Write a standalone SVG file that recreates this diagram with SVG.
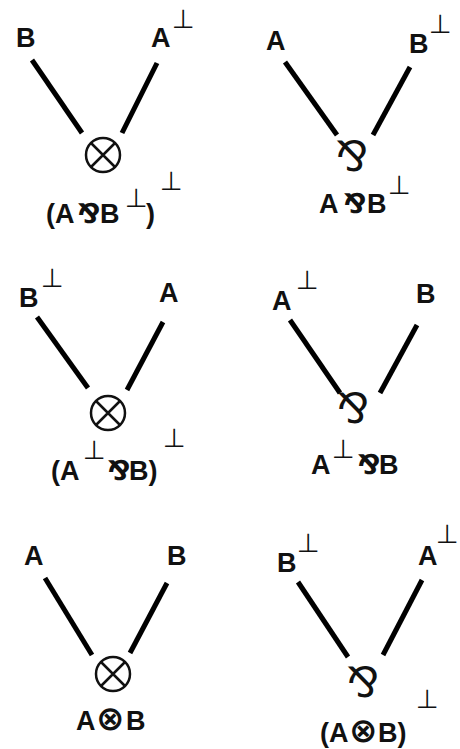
<svg xmlns="http://www.w3.org/2000/svg" width="460" height="749" viewBox="0 0 460 749">
<style>
.l{font-family:"Liberation Sans","DejaVu Sans",sans-serif;font-weight:bold;font-size:27px;fill:#111}
.s{font-family:"DejaVu Sans",sans-serif;font-weight:normal;font-size:26px;fill:#111}
.o{font-family:"DejaVu Sans",sans-serif;font-weight:bold}
.ot{font-family:"DejaVu Sans",sans-serif;font-weight:bold;font-size:34px}
.par{font-family:"DejaVu Sans",sans-serif;font-size:42px;fill:#111;text-anchor:middle}
.e{stroke:#000;stroke-width:5;fill:none}
.t{stroke:#111;stroke-width:2.5;fill:none}
</style>
<rect width="460" height="749" fill="#fff"/>
<g id="connectors">
<line class="e" x1="32" y1="60" x2="82" y2="133"/>
<line class="e" x1="157" y1="63" x2="122" y2="133"/>
<line class="e" x1="285" y1="62" x2="337" y2="135"/>
<line class="e" x1="410" y1="67" x2="373" y2="135"/>
<line class="e" x1="37" y1="317" x2="88" y2="388"/>
<line class="e" x1="163" y1="322" x2="127" y2="390"/>
<line class="e" x1="290" y1="320" x2="340" y2="393"/>
<line class="e" x1="417" y1="325" x2="380" y2="393"/>
<line class="e" x1="45" y1="578" x2="92" y2="655"/>
<line class="e" x1="167" y1="583" x2="130" y2="653"/>
<line class="e" x1="298" y1="582" x2="348" y2="657"/>
<line class="e" x1="422" y1="580" x2="383" y2="655"/>
</g>
<!-- Panel 1 -->
<g id="p1-b"><text class="l" x="16" y="47">B</text></g>
<g id="p1-aperp"><text class="l" x="151" y="47">A<tspan class="s" x="172" y="28">⊥</tspan></text></g>
<g id="p1-tensor">
<circle class="t" cx="103" cy="155" r="17"/>
<path class="t" d="M91 143 L115 167 M115 143 L91 167"/>
<text class="l" x="46" y="223">(A<tspan class="o" x="77">⅋</tspan><tspan x="100">B</tspan><tspan class="s" x="125" y="207">⊥</tspan><tspan x="146" y="223">)</tspan><tspan class="s" x="160" y="190">⊥</tspan></text>
</g>
<!-- Panel 2 -->
<g id="p2-a"><text class="l" x="266" y="50">A</text></g>
<g id="p2-bperp"><text class="l" x="409" y="53">B<tspan class="s" x="429" y="33">⊥</tspan></text></g>
<g id="p2-par">
<text class="par" x="352" y="171">⅋</text>
<text class="l" x="319" y="213">A<tspan class="o" x="343">⅋</tspan><tspan x="367">B</tspan><tspan class="s" x="388" y="194">⊥</tspan></text>
</g>
<!-- Panel 3 -->
<g id="p3-bperp"><text class="l" x="19" y="307">B<tspan class="s" x="41" y="287">⊥</tspan></text></g>
<g id="p3-a"><text class="l" x="159" y="302">A</text></g>
<g id="p3-tensor">
<circle class="t" cx="108" cy="413" r="17"/>
<path class="t" d="M96 401 L120 425 M120 401 L96 425"/>
<text class="l" x="51" y="480">(A<tspan class="s" x="83" y="459">⊥</tspan><tspan class="o" x="107" y="480">⅋</tspan><tspan x="129">B)</tspan><tspan class="s" x="163" y="447">⊥</tspan></text>
</g>
<!-- Panel 4 -->
<g id="p4-aperp"><text class="l" x="272" y="310">A<tspan class="s" x="296" y="289">⊥</tspan></text></g>
<g id="p4-b"><text class="l" x="416" y="303">B</text></g>
<g id="p4-par">
<text class="par" x="353" y="423">⅋</text>
<text class="l" x="311" y="474">A<tspan class="s" x="332" y="458">⊥</tspan><tspan class="o" x="357" y="474">⅋</tspan><tspan x="379">B</tspan></text>
</g>
<!-- Panel 5 -->
<g id="p5-a"><text class="l" x="24" y="565">A</text></g>
<g id="p5-b"><text class="l" x="167" y="565">B</text></g>
<g id="p5-tensor">
<circle class="t" cx="113" cy="674" r="17"/>
<path class="t" d="M101 662 L125 686 M125 662 L101 686"/>
<text class="l" x="76" y="730">A<tspan class="ot" x="96">⊗</tspan><tspan x="126">B</tspan></text>
</g>
<!-- Panel 6 -->
<g id="p6-bperp"><text class="l" x="277" y="572">B<tspan class="s" x="297" y="552">⊥</tspan></text></g>
<g id="p6-aperp"><text class="l" x="418" y="565">A<tspan class="s" x="436" y="543">⊥</tspan></text></g>
<g id="p6-par">
<text class="par" x="363" y="697">⅋</text>
<text class="l" x="320" y="742">(A<tspan class="ot" x="349">⊗</tspan><tspan x="378">B)</tspan><tspan class="s" x="416" y="708">⊥</tspan></text>
</g>
</svg>
